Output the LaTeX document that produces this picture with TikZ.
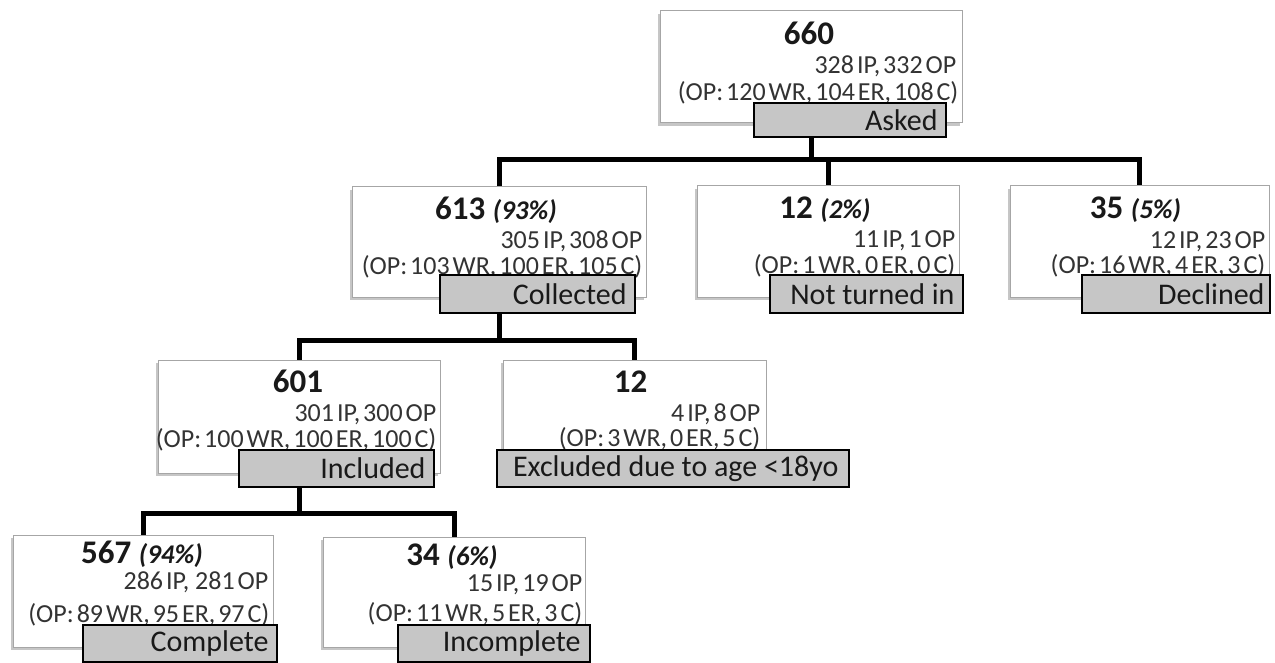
\documentclass[tikz,border=0pt]{standalone}
\usepackage{fontspec}
\setmainfont{Carlito}
\newfontfamily\subfont{Carlito}[WordSpace=0.5]
\usetikzlibrary{shadows,calc,backgrounds}
\newcommand\pctx[1]{{\fontsize{27}{29}\selectfont\itshape\bfseries #1}}
\begin{document}
\begin{tikzpicture}[x=1pt,y=-1pt,
 box/.style={rectangle, draw=gray!70, line width=1pt, fill=white, inner sep=0pt,
   drop shadow={shadow xshift=-2pt, shadow yshift=-3pt, opacity=0.45}},
 lab/.style={rectangle, draw=black, line width=1.4pt, fill=gray!45, inner sep=0pt},
 conn/.style={line width=5pt, line join=miter},
 ttl/.style={font=\fontsize{33}{35}\selectfont\bfseries, text=black!90, inner sep=0pt},
 sub/.style={font=\subfont\fontsize{26}{28}\selectfont, text=black!80, anchor=east, inner sep=0pt},
 labt/.style={font=\fontsize{30}{32}\selectfont, text=black!90, anchor=east, inner sep=0pt},
]
\useasboundingbox (0,0) rectangle (1275,663);

% ---- boxes
\node[box, minimum width=302pt, minimum height=112pt] (top) at (811,67) {};
\node[box, minimum width=294pt, minimum height=110pt] (b613) at (499,242) {};
\node[box, minimum width=262pt, minimum height=111pt] (b12a) at (828,241.5) {};
\node[box, minimum width=259pt, minimum height=111pt] (b35) at (1139.5,241.5) {};
\node[box, minimum width=282pt, minimum height=113pt] (b601) at (299,416.5) {};
\node[box, minimum width=263pt, minimum height=113pt] (b12b) at (634.5,416.5) {};
\node[box, minimum width=260pt, minimum height=112pt] (b567) at (143,591) {};
\node[box, minimum width=262pt, minimum height=110pt] (b34) at (454,592) {};

% ---- texts
\node[ttl] (topT) at ($(top.north)+(-2,23)$) {660};
\node[sub] (topA) at ($(top.north east)+(-6,56)$) {328 IP, 332 OP};
\node[sub] (topB) at ($(top.north east)+(-4,82)$) {(OP: 120 WR, 104 ER, 108 C)};

\node[ttl] (b613T) at ($(b613.north)+(-3,24)$) {613 \pctx{(93\%)}};
\node[sub] (b613A) at ($(b613.north east)+(-4,55)$) {305 IP, 308 OP};
\node[sub] (b613B) at ($(b613.north east)+(-4,80)$) {(OP: 103 WR, 100 ER, 105 C)};

\node[ttl] (b12aT) at ($(b12a.north)+(-3,24)$) {12 \pctx{(2\%)}};
\node[sub] (b12aA) at ($(b12a.north east)+(-4,55)$) {11 IP, 1 OP};
\node[sub] (b12aB) at ($(b12a.north east)+(-4,80)$) {(OP: 1 WR, 0 ER, 0 C)};

\node[ttl] (b35T) at ($(b35.north)+(-4,24)$) {35 \pctx{(5\%)}};
\node[sub] (b35A) at ($(b35.north east)+(-4,56)$) {12 IP, 23 OP};
\node[sub] (b35B) at ($(b35.north east)+(-4,80)$) {(OP: 16 WR, 4 ER, 3 C)};

\node[ttl] (b601T) at ($(b601.north)+(-1,22)$) {601};
\node[sub] (b601A) at ($(b601.north east)+(-4,55)$) {301 IP, 300 OP};
\node[sub] (b601B) at ($(b601.north east)+(-4,80)$) {(OP: 100 WR, 100 ER, 100 C)};

\node[ttl] (b12bT) at ($(b12b.north)+(-4,22)$) {12};
\node[sub] (b12bA) at ($(b12b.north east)+(-6,55)$) {4 IP, 8 OP};
\node[sub] (b12bB) at ($(b12b.north east)+(-6,79)$) {(OP: 3 WR, 0 ER, 5 C)};

\node[ttl] (b567T) at ($(b567.north)+(-1,20)$) {567 \pctx{(94\%)}};
\node[sub] (b567A) at ($(b567.north east)+(-5,48)$) {286 IP,\ \ 281 OP};
\node[sub] (b567B) at ($(b567.north east)+(-4,80)$) {(OP: 89 WR, 95 ER, 97 C)};

\node[ttl] (b34T) at ($(b34.north)+(-2,20)$) {34 \pctx{(6\%)}};
\node[sub] (b34A) at ($(b34.north east)+(-3,48)$) {15 IP, 19 OP};
\node[sub] (b34B) at ($(b34.north east)+(-3,77)$) {(OP: 11 WR, 5 ER, 3 C)};

% ---- labels
\node[lab, minimum width=192pt, minimum height=34pt] (lAsked) at (850,120) {};
\node[labt] (tAsked) at ($(lAsked.east)+(-9,0)$) {Asked};
\node[lab, minimum width=195pt, minimum height=38pt] (lColl) at (537.5,294) {};
\node[labt] (tColl) at ($(lColl.east)+(-9,0)$) {Collected};
\node[lab, minimum width=193pt, minimum height=38pt] (lNot) at (866.5,294) {};
\node[labt] (tNot) at ($(lNot.east)+(-9,0)$) {Not turned in};
\node[lab, minimum width=188pt, minimum height=38pt] (lDec) at (1176,294) {};
\node[labt] (tDec) at ($(lDec.east)+(-6,0)$) {Declined};
\node[lab, minimum width=195pt, minimum height=37pt] (lInc) at (336.5,468.5) {};
\node[labt] (tInc) at ($(lInc.east)+(-9,0)$) {Included};
\node[lab, minimum width=352pt, minimum height=37pt] (lExc) at (673,468.5) {};
\node[labt] (tExc) at ($(lExc.east)+(-11,0)$) {Excluded due to age <18yo};
\node[lab, minimum width=194pt, minimum height=37pt] (lCom) at (180,643.5) {};
\node[labt] (tCom) at ($(lCom.east)+(-9,0)$) {Complete};
\node[lab, minimum width=192pt, minimum height=37pt] (lIcm) at (494,643.5) {};
\node[labt] (tIcm) at ($(lIcm.east)+(-10,0)$) {Incomplete};

% ---- connectors
\coordinate (h1) at (0,160);
\coordinate (h2) at (0,340);
\coordinate (h3) at (0,513);
\begin{scope}[on background layer]
\draw[conn] (top.center) -- (top.center |- h1);
\draw[conn] (b613.north) -- (b613.north |- h1) -- (b35.north |- h1) -- (b35.north);
\draw[conn] (b12a.north) -- (b12a.north |- h1);
\draw[conn] (b613.center) -- (b613.center |- h2);
\draw[conn] (b601.north) -- (b601.north |- h2) -- (b12b.north |- h2) -- (b12b.north);
\draw[conn] (b601.center) -- (b601.center |- h3);
\draw[conn] (b567.north) -- (b567.north |- h3) -- (b34.north |- h3) -- (b34.north);
\end{scope}
\end{tikzpicture}
\end{document}
